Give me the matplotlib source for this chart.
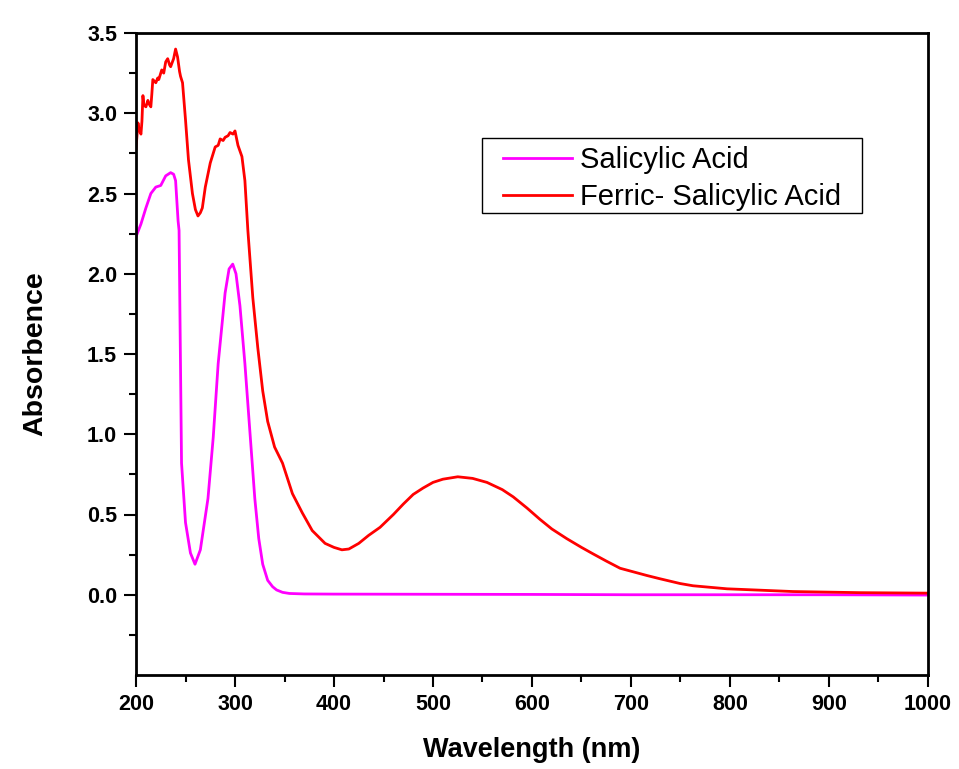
import numpy as np
import matplotlib.pyplot as plt
from matplotlib.patches import Rectangle

plt.rcParams['font.family'] = ['Liberation Sans', 'DejaVu Sans']

# Salicylic Acid (magenta)
wl_sa = [200, 205, 210, 215, 220, 225, 230, 235, 238, 240, 242.5, 243.5, 246, 250,
         255, 259.6, 265, 272.7, 278, 283, 290, 294, 297.7, 301, 305, 310, 315, 320,
         324, 328, 333, 338, 342, 348, 355, 370, 400, 500, 600, 700, 800, 900, 1000]
abs_sa = [2.23, 2.31, 2.41, 2.50, 2.54, 2.55, 2.61, 2.63, 2.62, 2.58, 2.33, 2.27, 0.82, 0.45,
          0.26, 0.19, 0.28, 0.60, 0.98, 1.44, 1.88, 2.03, 2.06, 2.0, 1.80, 1.44, 1.02, 0.60,
          0.35, 0.19, 0.09, 0.05, 0.03, 0.015, 0.008, 0.005, 0.004, 0.003, 0.002, 0.0, 0.0, 0.0, -0.002]

# Ferric- Salicylic Acid (red)
wl_fe = [200, 202, 203, 205, 206, 207, 208, 210, 212, 213, 215, 216, 217, 220, 222, 223, 226,
         228, 230, 232, 234, 235, 238, 240, 242, 244, 245, 247, 250, 253, 257, 260, 262.6,
         265, 267, 270, 275, 280, 283, 285, 288, 290, 293, 295, 298, 300, 303, 307, 310,
         313, 318, 323, 328, 333, 340, 348, 358, 368, 378, 391, 400, 408, 415, 425, 435,
         446.5, 460, 470, 480, 490, 500, 510, 525, 540, 554.5, 570, 581, 595, 608, 620, 635,
         650, 661.6, 675, 689, 716, 729, 749.5, 762.6, 797, 863.6, 931, 1000]
abs_fe = [2.78, 2.94, 2.90, 2.87, 2.95, 3.11, 3.05, 3.04, 3.08, 3.06, 3.04, 3.12, 3.21, 3.19, 3.22, 3.21, 3.27,
          3.25, 3.32, 3.34, 3.30, 3.29, 3.34, 3.40, 3.35, 3.26, 3.23, 3.19, 2.96, 2.71, 2.50, 2.40, 2.36,
          2.38, 2.41, 2.54, 2.69, 2.79, 2.80, 2.84, 2.83, 2.85, 2.86, 2.88, 2.87, 2.89, 2.80, 2.73, 2.58,
          2.27, 1.85, 1.54, 1.27, 1.08, 0.92, 0.82, 0.63, 0.51, 0.40, 0.32, 0.295, 0.28, 0.285, 0.32, 0.37,
          0.42, 0.50, 0.565, 0.625, 0.665, 0.70, 0.72, 0.735, 0.725, 0.70, 0.655, 0.61, 0.54, 0.47, 0.41, 0.35,
          0.295, 0.255, 0.21, 0.165, 0.12, 0.10, 0.07, 0.056, 0.037, 0.02, 0.013, 0.01]

W, H = 959, 769
fig = plt.figure(figsize=(W/100, H/100), dpi=100)
ax = fig.add_axes([136/W, 1-675/H, 792/W, 642/H])

ax.plot(wl_sa, abs_sa, color='#ff00ff', lw=2, label='Salicylic Acid')
ax.plot(wl_fe, abs_fe, color='#ff0000', lw=2, label='Ferric- Salicylic Acid')

ax.set_xlim(200, 1000)
ax.set_ylim(-0.5, 3.5)
ax.set_xticks(np.arange(200, 1001, 100))
ax.set_xticks(np.arange(250, 1000, 100), minor=True)
ax.set_yticks(np.arange(0, 3.51, 0.5))
ax.set_yticks(np.arange(-0.25, 3.5, 0.5), minor=True)
ax.yaxis.set_major_formatter(plt.FormatStrFormatter('%.1f'))

for s in ax.spines.values():
    s.set_linewidth(2)
ax.tick_params(which='major', direction='out', length=8.5, width=1.5, labelsize=15.5, pad=5)
ax.tick_params(which='minor', direction='out', length=5, width=1.5)
for lab in ax.get_xticklabels() + ax.get_yticklabels():
    lab.set_fontweight('bold')

ax.set_xlabel('Wavelength (nm)', fontsize=19.5, fontweight='bold', labelpad=16)
ax.set_ylabel('Absorbence', fontsize=20.5, fontweight='bold', labelpad=28)

# legend box drawn separately, entries inside it without frame
fig.patches.append(Rectangle((482/W, 1-213/H), 380/W, 75/H, transform=fig.transFigure,
                             fill=False, edgecolor='black', lw=1))
leg = ax.legend(loc='center left', bbox_to_anchor=(503/W, 1-178.5/H),
                bbox_transform=fig.transFigure, fontsize=21, frameon=False,
                borderaxespad=0, borderpad=0, handlelength=2.35, handletextpad=0.3,
                labelspacing=0.3)

fig.savefig('out.png', dpi=100)
